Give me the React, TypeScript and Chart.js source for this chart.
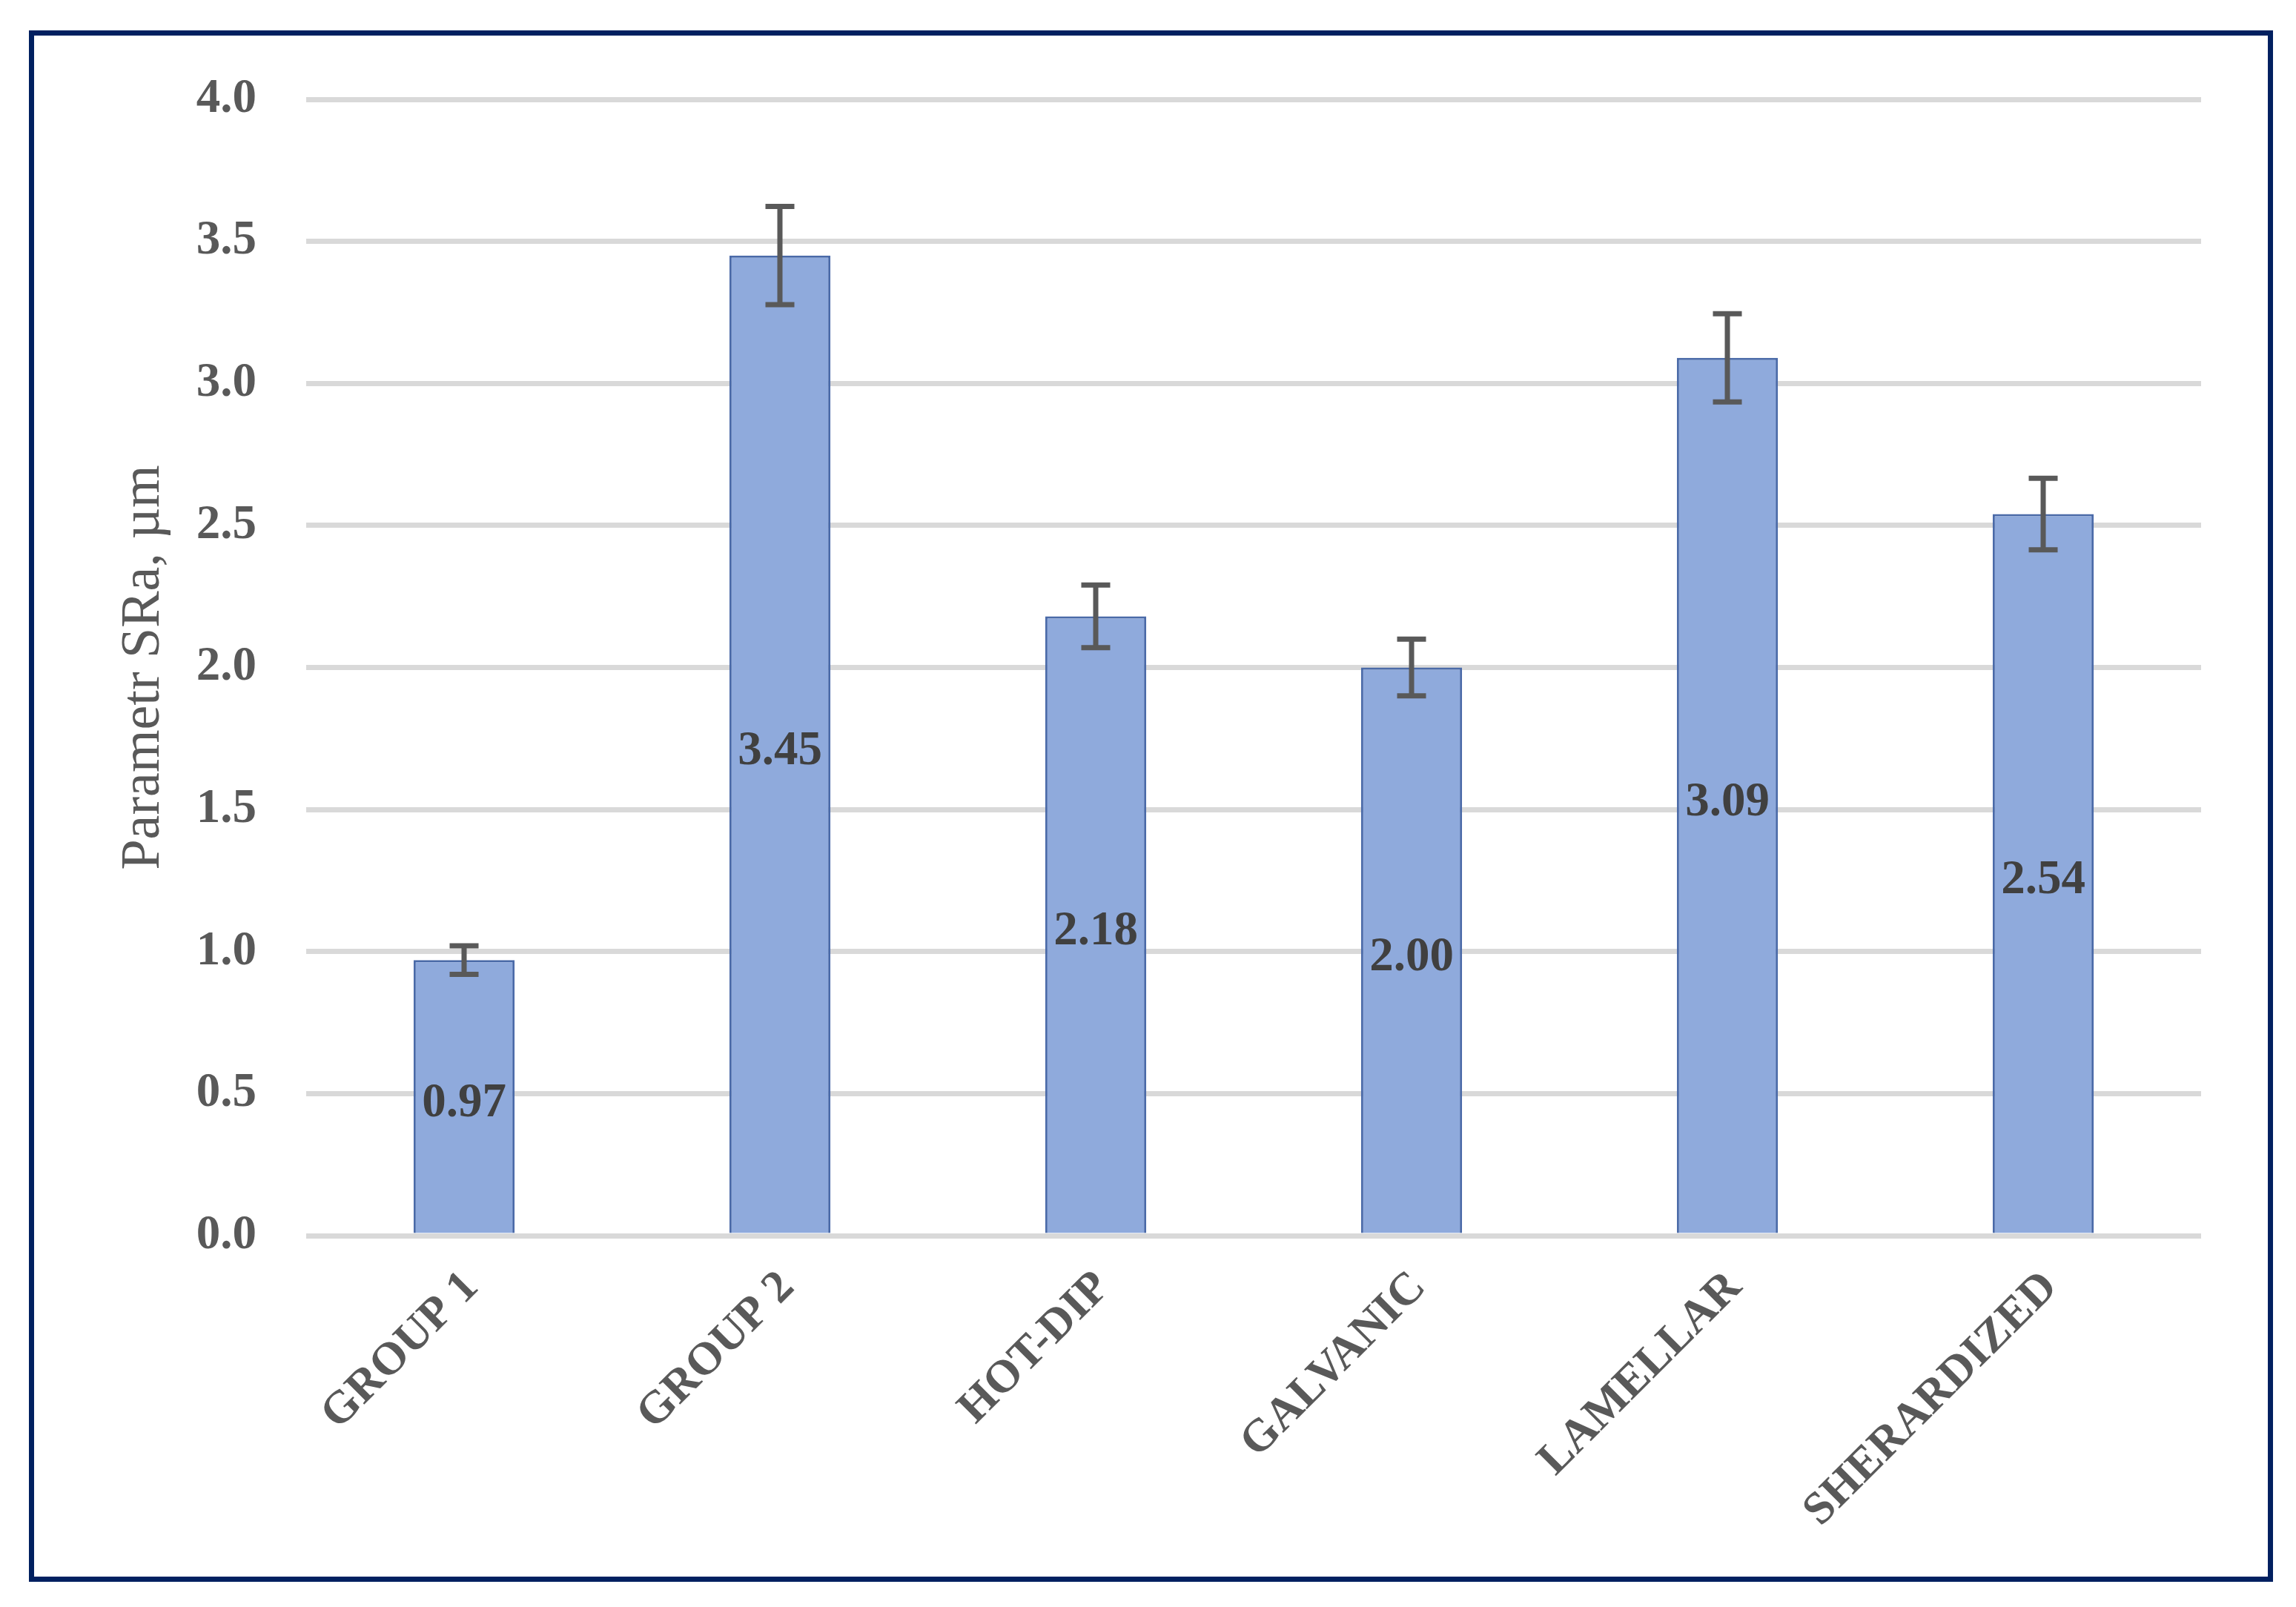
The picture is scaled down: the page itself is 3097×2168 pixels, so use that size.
import React, { useEffect, useRef } from "react";
import { Chart, registerables } from "chart.js";

Chart.register(...registerables);

const categories = ["GROUP 1", "GROUP 2", "HOT-DIP", "GALVANIC", "LAMELLAR", "SHERARDIZED"];
const values = [0.97, 3.45, 2.18, 2.0, 3.09, 2.54];
const errors = [0.05, 0.173, 0.11, 0.1, 0.155, 0.126];
const yTicks = [0, 0.5, 1.0, 1.5, 2.0, 2.5, 3.0, 3.5, 4.0];
const yTitle = "Parametr SRa, µm";

const W = 3097;
const H = 2168;
const FONT = "'Liberation Serif', 'Times New Roman', serif";

const frameAndBg = {
  id: "frameAndBg",
  beforeDraw(chart: any) {
    const ctx = chart.ctx;
    ctx.save();
    ctx.fillStyle = "#ffffff";
    ctx.fillRect(0, 0, chart.width, chart.height);
    ctx.strokeStyle = "#012060";
    ctx.lineWidth = 7;
    ctx.strokeRect(42.5, 44.5, 3062.5 - 42.5, 2130.5 - 44.5);
    ctx.restore();
  },
};

const errorBars = {
  id: "errorBars",
  afterDatasetsDraw(chart: any) {
    const ctx = chart.ctx;
    const y = chart.scales.y;
    const meta = chart.getDatasetMeta(0);
    ctx.save();
    ctx.strokeStyle = "#595959";
    ctx.lineWidth = 7;
    ctx.lineCap = "butt";
    meta.data.forEach((bar: any, i: number) => {
      const v = values[i];
      const e = errors[i];
      const yt = y.getPixelForValue(v + e);
      const yb = y.getPixelForValue(v - e);
      const x = bar.x;
      const half = 19.5;
      ctx.beginPath();
      ctx.moveTo(x, yt);
      ctx.lineTo(x, yb);
      ctx.moveTo(x - half, yt);
      ctx.lineTo(x + half, yt);
      ctx.moveTo(x - half, yb);
      ctx.lineTo(x + half, yb);
      ctx.stroke();
    });
    ctx.restore();
  },
};

const dataLabels = {
  id: "dataLabels",
  afterDraw(chart: any) {
    const ctx = chart.ctx;
    const meta = chart.getDatasetMeta(0);
    ctx.save();
    ctx.fillStyle = "#404040";
    ctx.font = `bold 65px ${FONT}`;
    ctx.textAlign = "center";
    ctx.textBaseline = "middle";
    meta.data.forEach((bar: any, i: number) => {
      const cy = (bar.y + bar.base) / 2 + 10;
      ctx.fillText(values[i].toFixed(2), bar.x, cy);
    });
    ctx.restore();
  },
};

export default function App() {
  const ref = useRef<HTMLCanvasElement | null>(null);

  useEffect(() => {
    if (!ref.current) return;
    const chart = new Chart(ref.current, {
      type: "bar",
      data: {
        labels: categories,
        datasets: [
          {
            data: values,
            backgroundColor: "#8FAADC",
            borderColor: "#4A6AA8",
            borderWidth: 3,
            barPercentage: 0.32,
            categoryPercentage: 1.0,
          },
        ],
      },
      options: {
        animation: false,
        responsive: false,
        maintainAspectRatio: false,
        devicePixelRatio: 1,
        layout: { padding: { left: 0, top: 134, right: 128, bottom: 0 } },
        plugins: {
          legend: { display: false },
          tooltip: { enabled: false },
          title: { display: false },
        },
        scales: {
          x: {
            grid: { display: false, drawTicks: false },
            border: { display: false },
            ticks: {
              color: "#595959",
              font: { family: FONT, size: 62, weight: "bold" },
              maxRotation: 45,
              minRotation: 45,
              padding: 34,
              labelOffset: 10,
              autoSkip: false,
            },
            afterFit(scale: any) {
              scale.height = H - 1667;
            },
          },
          y: {
            min: 0,
            max: 4,
            afterBuildTicks(scale: any) {
              scale.ticks = yTicks.map((v) => ({ value: v }));
            },
            grid: { color: "#D9D9D9", lineWidth: 7, drawTicks: false },
            border: { display: false },
            ticks: {
              color: "#595959",
              font: { family: FONT, size: 65, weight: "bold" },
              padding: 67,
              callback: (v: any) => Number(v).toFixed(1),
            },
            title: {
              display: true,
              text: yTitle,
              color: "#595959",
              font: { family: FONT, size: 74, weight: "normal" },
              padding: { top: 150, bottom: 0 },
            },
            afterFit(scale: any) {
              scale.width = 413;
            },
          },
        },
      },
      plugins: [frameAndBg, errorBars, dataLabels],
    });
    return () => chart.destroy();
  }, []);

  return (
    <div style={{ position: "absolute", left: 0, top: 0, width: W, height: H, background: "#fff" }}>
      <canvas ref={ref} width={W} height={H} style={{ width: W, height: H, display: "block" }} />
    </div>
  );
}
